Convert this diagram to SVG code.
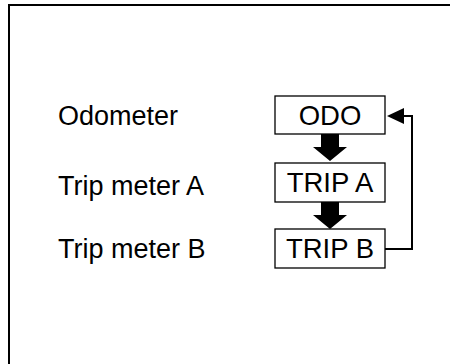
<svg xmlns="http://www.w3.org/2000/svg" width="450" height="364" viewBox="0 0 450 364">
<style>
.lbl{font-family:"Liberation Sans",Arial,sans-serif;font-size:27px;fill:#000}
.box{fill:#fff;stroke:#000;stroke-width:1.3}
.btx{font-family:"Liberation Sans",Arial,sans-serif;font-size:27.5px;fill:#000;text-anchor:middle}
.fat{fill:#000;stroke:none}
</style>
<rect width="450" height="364" fill="#fff"/>
<path d="M9,364 V5 H450" fill="none" stroke="#000" stroke-width="2"/>
<g id="label-odometer"><text class="lbl" x="58" y="125">Odometer</text></g>
<g id="label-tripa"><text class="lbl" x="58" y="195">Trip meter A</text></g>
<g id="label-tripb"><text class="lbl" x="58" y="258">Trip meter B</text></g>
<g id="node-odo"><rect class="box" x="275" y="96" width="110" height="38"/><text class="btx" x="330" y="125">ODO</text></g>
<g id="node-tripa"><rect class="box" x="275" y="163" width="110" height="39"/><text class="btx" x="330" y="192">TRIP A</text></g>
<g id="node-tripb"><rect class="box" x="275" y="229" width="110" height="39"/><text class="btx" x="330" y="258">TRIP B</text></g>
<g id="connectors">
<path class="fat" d="M321,134 H339 V147 H347 L330,161 L313,147 H321 Z"/>
<path class="fat" d="M321,202 H339 V215 H347 L330,229 L313,215 H321 Z"/>
<path d="M385,249 H412 V116 H403" fill="none" stroke="#000" stroke-width="2"/>
<path class="fat" d="M404,108 L387,116 L404,124 Z"/>
</g>
</svg>
